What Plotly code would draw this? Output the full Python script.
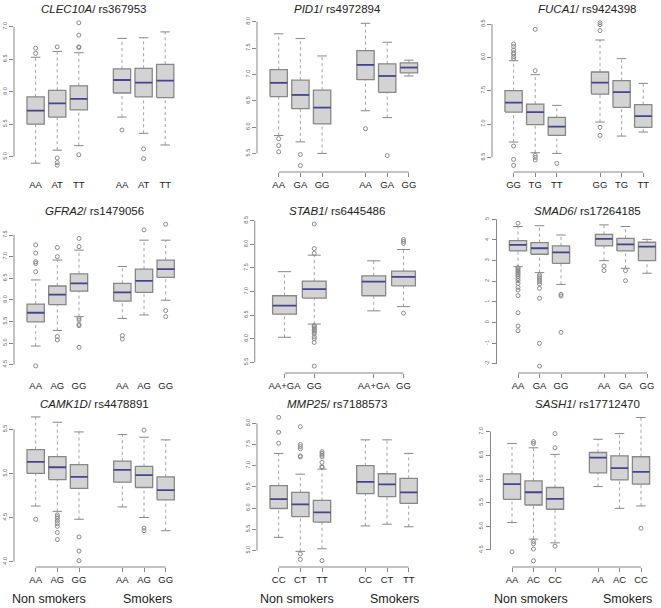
import plotly.graph_objects as go

# ---------------- data ----------------
POS6 = [1, 2, 3, 5, 6, 7]
POS4 = [1, 2, 4, 5]

CLEC10A_labels = ["AA", "AT", "TT", "AA", "AT", "TT"]
CLEC10A_lo = [4.90, 5.10, 5.17, 5.61, 5.36, 5.18]
CLEC10A_q1 = [5.50, 5.61, 5.72, 5.98, 5.92, 5.91]
CLEC10A_med = [5.71, 5.82, 5.89, 6.18, 6.14, 6.17]
CLEC10A_q3 = [5.92, 6.02, 6.09, 6.35, 6.36, 6.42]
CLEC10A_hi = [6.53, 6.62, 6.60, 6.82, 6.83, 6.92]
CLEC10A_out = [[6.67, 6.59], [6.69, 4.98, 4.91, 4.87], [7.06, 6.87, 6.69, 6.68, 5.03],
               [5.41], [5.12, 4.97], []]

PID1_labels = ["AA", "GA", "GG", "AA", "GA", "GG"]
PID1_lo = [5.84, 5.72, 5.50, 6.31, 6.18, 6.97]
PID1_q1 = [6.58, 6.35, 6.06, 6.90, 6.66, 7.03]
PID1_med = [6.84, 6.61, 6.37, 7.18, 6.97, 7.13]
PID1_q3 = [7.09, 6.89, 6.70, 7.45, 7.20, 7.22]
PID1_hi = [7.77, 7.68, 7.35, 7.97, 7.61, 7.27]
PID1_out = [[5.78, 5.65, 5.53], [5.48, 5.27], [], [5.97], [5.46], []]

FUCA1_labels = ["GG", "TG", "TT", "GG", "TG", "TT"]
FUCA1_lo = [6.73, 6.57, 6.56, 7.03, 6.82, 6.88]
FUCA1_q1 = [7.18, 6.99, 6.83, 7.45, 7.25, 6.95]
FUCA1_med = [7.32, 7.18, 6.96, 7.62, 7.48, 7.12]
FUCA1_q3 = [7.50, 7.30, 7.10, 7.78, 7.65, 7.29]
FUCA1_hi = [7.95, 7.74, 7.28, 8.26, 7.98, 7.61]
FUCA1_out = [[8.20, 8.16, 8.11, 8.07, 8.05, 8.01, 7.98, 6.67, 6.47, 6.38],
             [8.42, 7.80, 6.53, 6.50, 6.46], [6.41],
             [8.52, 8.49, 8.40, 6.95, 6.83], [], []]

GFRA2_labels = ["AA", "AG", "GG", "AA", "AG", "GG"]
GFRA2_lo = [4.93, 5.29, 5.61, 5.57, 5.65, 5.99]
GFRA2_q1 = [5.49, 5.89, 6.20, 5.97, 6.17, 6.52]
GFRA2_med = [5.70, 6.12, 6.38, 6.17, 6.44, 6.71]
GFRA2_q3 = [5.90, 6.32, 6.60, 6.38, 6.71, 6.92]
GFRA2_hi = [6.46, 6.92, 7.15, 6.77, 7.38, 7.38]
GFRA2_out = [[7.27, 7.08, 6.88, 6.84, 6.65, 4.47], [7.21, 7.00, 5.15, 5.07],
             [7.42, 7.23, 5.57, 5.53, 5.43, 5.40, 4.90], [5.17, 5.09], [7.62],
             [7.75, 5.75, 5.61]]

STAB1_labels = ["AA+GA", "GG", "AA+GA", "GG"]
STAB1_lo = [6.03, 6.31, 6.59, 6.68]
STAB1_q1 = [6.52, 6.86, 6.91, 7.12]
STAB1_med = [6.70, 7.05, 7.21, 7.31]
STAB1_q3 = [6.91, 7.22, 7.33, 7.43]
STAB1_hi = [7.42, 7.77, 7.65, 7.89]
STAB1_out = [[], [8.43, 7.91, 7.81, 6.28, 6.26, 6.23, 6.20, 6.17, 6.14, 6.11, 6.04, 6.00, 5.92, 5.42],
             [], [8.10, 8.06, 8.02, 6.54]]

SMAD6_labels = ["AA", "GA", "GG", "AA", "GA", "GG"]
SMAD6_lo = [2.71, 2.42, 1.85, 3.00, 2.63, 2.39]
SMAD6_q1 = [3.47, 3.31, 2.87, 3.71, 3.47, 3.00]
SMAD6_med = [3.76, 3.60, 3.40, 4.05, 3.79, 3.68]
SMAD6_q3 = [3.97, 3.87, 3.71, 4.27, 4.08, 3.89]
SMAD6_hi = [4.65, 4.69, 4.24, 4.73, 4.65, 4.03]
SMAD6_out = [[4.81, 2.66, 2.60, 2.52, 2.45, 2.39, 2.31, 2.23, 2.13, 2.03, 1.90, 1.71, 1.58, 1.31,
              0.48, -0.16, -0.39],
             [2.31, 2.23, 2.15, 2.06, 1.98, 1.87, 1.66, 1.18, -1.00, -2.10],
             [1.37, 1.29, -0.47], [2.74, 2.52], [2.52, 2.03], []]

CAMK1D_labels = ["AA", "AG", "GG", "AA", "AG", "GG"]
CAMK1D_lo = [4.63, 4.57, 4.48, 4.62, 4.50, 4.35]
CAMK1D_q1 = [5.00, 4.93, 4.83, 4.90, 4.84, 4.70]
CAMK1D_med = [5.13, 5.07, 4.96, 5.04, 4.98, 4.81]
CAMK1D_q3 = [5.27, 5.19, 5.10, 5.14, 5.08, 4.96]
CAMK1D_hi = [5.64, 5.58, 5.47, 5.44, 5.41, 5.38]
CAMK1D_out = [[4.48], [4.53, 4.51, 4.49, 4.46, 4.43, 4.40, 4.33, 4.25], [4.28, 4.12, 4.01],
              [], [5.49, 4.38, 4.35], []]

MMP25_labels = ["CC", "CT", "TT", "CC", "CT", "TT"]
MMP25_lo = [5.31, 4.98, 5.04, 5.58, 5.62, 5.56]
MMP25_q1 = [5.99, 5.80, 5.67, 6.34, 6.27, 6.11]
MMP25_med = [6.21, 6.09, 5.90, 6.62, 6.56, 6.37]
MMP25_q3 = [6.53, 6.37, 6.18, 7.00, 6.81, 6.70]
MMP25_hi = [7.29, 6.80, 6.92, 7.61, 7.61, 7.29]
MMP25_out = [[8.14, 7.79, 7.53], [7.92, 7.50, 7.45, 7.40, 7.23, 7.21, 4.92, 4.79],
             [7.33, 7.29, 7.25, 7.21, 7.08, 6.98, 6.96, 4.76], [], [], []]

SASH1_labels = ["AA", "AC", "CC", "AA", "AC", "CC"]
SASH1_lo = [5.08, 4.73, 4.65, 5.84, 5.38, 5.43]
SASH1_q1 = [5.57, 5.45, 5.36, 6.13, 5.98, 5.89]
SASH1_med = [5.89, 5.72, 5.58, 6.45, 6.23, 6.15]
SASH1_q3 = [6.11, 5.96, 5.82, 6.56, 6.49, 6.47]
SASH1_hi = [6.75, 6.66, 6.52, 6.84, 6.96, 7.30]
SASH1_out = [[4.46], [6.79, 6.75, 4.68, 4.63, 4.52, 4.27], [6.96, 6.66, 4.58], [], [], [4.96]]

GROUP_LABELS = ["Non smokers", "Smokers"]

# ---------------- layout of the panels (pixels) ----------------
W, H = 661, 608
panels = [
    ("CLEC10A", "rs367953", CLEC10A_labels, POS6, CLEC10A_lo, CLEC10A_q1, CLEC10A_med, CLEC10A_q3, CLEC10A_hi, CLEC10A_out,
     [5.0, 5.5, 6.0, 6.5, 7.0], 14, 21.6, 7.0, 26.7, 65.0, 15, 172, False, (94, 9)),
    ("PID1", "rs4972894", PID1_labels, POS6, PID1_lo, PID1_q1, PID1_med, PID1_q3, PID1_hi, PID1_out,
     [5.5, 6.0, 6.5, 7.0, 7.5, 8.0], 257, 21.7, 8.0, 21.7, 52.7, 15, 172, True, (337, 9)),
    ("FUCA1", "rs9424398", FUCA1_labels, POS6, FUCA1_lo, FUCA1_q1, FUCA1_med, FUCA1_q3, FUCA1_hi, FUCA1_out,
     [6.5, 7.0, 7.5, 8.0, 8.5], 492, 21.6, 8.5, 24.0, 66.7, 15, 172, True, (587, 9)),
    ("GFRA2", "rs1479056", GFRA2_labels, POS6, GFRA2_lo, GFRA2_q1, GFRA2_med, GFRA2_q3, GFRA2_hi, GFRA2_out,
     [4.5, 5.0, 5.5, 6.0, 6.5, 7.0, 7.5], 14, 21.67, 7.5, 235.0, 43.2, 213, 373, False, (94, 211)),
    ("STAB1", "rs6445486", STAB1_labels, POS4, STAB1_lo, STAB1_q1, STAB1_med, STAB1_q3, STAB1_hi, STAB1_out,
     [5.5, 6.0, 6.5, 7.0, 7.5, 8.0, 8.5], 254.75, 29.75, 8.5, 220.7, 47.2, 213, 373, True, (337, 211)),
    ("SMAD6", "rs17264185", SMAD6_labels, POS6, SMAD6_lo, SMAD6_q1, SMAD6_med, SMAD6_q3, SMAD6_hi, SMAD6_out,
     [-2, -1, 0, 1, 2, 3, 4, 5], 496.5, 21.5, 5.0, 219.3, 20.67, 213, 373, True, (587, 211)),
    ("CAMK1D", "rs4478891", CAMK1D_labels, POS6, CAMK1D_lo, CAMK1D_q1, CAMK1D_med, CAMK1D_q3, CAMK1D_hi, CAMK1D_out,
     [4.0, 4.5, 5.0, 5.5], 14, 21.67, 5.5, 429.3, 88.2, 413, 567, True, (94, 404)),
    ("MMP25", "rs7188573", MMP25_labels, POS6, MMP25_lo, MMP25_q1, MMP25_med, MMP25_q3, MMP25_hi, MMP25_out,
     [5.0, 5.5, 6.0, 6.5, 7.0, 7.5, 8.0], 257, 21.67, 8.0, 423.3, 42.4, 413, 567, True, (337, 404)),
    ("SASH1", "rs17712470", SASH1_labels, POS6, SASH1_lo, SASH1_q1, SASH1_med, SASH1_q3, SASH1_hi, SASH1_out,
     [4.5, 5.0, 5.5, 6.0, 6.5, 7.0], 490.5, 21.5, 7.0, 431.7, 47.3, 413, 567, True, (587, 404)),
]
group_label_pos = [((49, 599), (147, 599)), ((297, 599), (394, 599)), ((531, 599), (627, 599))]

BOX_FILL = "#d3d3d3"
BOX_LINE = "#878787"
WHISK = "#a3a3a3"
MED = "#45458f"
OUT = "#8a8a8a"
HW = 0.4     # box half width
CW = 0.22    # cap half width

fig = go.Figure()
layout = dict(width=W, height=H, margin=dict(l=0, r=0, t=0, b=0),
              paper_bgcolor="white", plot_bgcolor="white", showlegend=False)
shapes, annotations = [], []

for i, p in enumerate(panels):
    (gene, rs, labels, pos, lo, q1, med, q3, hi, outs, yt, ax_px, unit,
     refv, refpx, ppu, top, bot, showx, tpos) = p
    n = "" if i == 0 else str(i + 1)
    xa, ya = "x" + n, "y" + n
    xmax = pos[-1] + 0.6

    wx, wy = [], []
    for k, x in enumerate(pos):
        wx += [x, x, None, x, x, None]
        wy += [q3[k], hi[k], None, lo[k], q1[k], None]
    fig.add_trace(go.Scatter(x=wx, y=wy, mode="lines", xaxis=xa, yaxis=ya,
                             line=dict(color=WHISK, width=1, dash="dot"), hoverinfo="skip"))
    cx, cy = [], []
    for k, x in enumerate(pos):
        cx += [x - CW, x + CW, None, x - CW, x + CW, None]
        cy += [hi[k], hi[k], None, lo[k], lo[k], None]
    fig.add_trace(go.Scatter(x=cx, y=cy, mode="lines", xaxis=xa, yaxis=ya,
                             line=dict(color=BOX_LINE, width=1), hoverinfo="skip"))
    bx, by = [], []
    for k, x in enumerate(pos):
        bx += [x - HW, x + HW, x + HW, x - HW, x - HW, None]
        by += [q1[k], q1[k], q3[k], q3[k], q1[k], None]
    fig.add_trace(go.Scatter(x=bx, y=by, mode="lines", fill="toself", fillcolor=BOX_FILL,
                             xaxis=xa, yaxis=ya, line=dict(color=BOX_LINE, width=1.3),
                             hoverinfo="skip"))
    mx, my = [], []
    for k, x in enumerate(pos):
        mx += [x - HW, x + HW, None]
        my += [med[k], med[k], None]
    fig.add_trace(go.Scatter(x=mx, y=my, mode="lines", xaxis=xa, yaxis=ya,
                             line=dict(color=MED, width=1.8), hoverinfo="skip"))
    ox, oy = [], []
    for k, x in enumerate(pos):
        for v in outs[k]:
            ox.append(x)
            oy.append(v)
    fig.add_trace(go.Scatter(x=ox, y=oy, mode="markers", xaxis=xa, yaxis=ya, cliponaxis=False,
                             marker=dict(symbol="circle-open", size=4, color=OUT, line=dict(width=1)),
                             hoverinfo="skip"))

    ymin = refv - (bot - refpx) / ppu
    ymax = refv + (refpx - top) / ppu
    xr_px = ax_px + xmax * unit
    layout["xaxis" + n] = dict(
        domain=[ax_px / W, min(xr_px / W, 1.0)], range=[0, xmax], anchor=ya,
        tickmode="array", tickvals=pos, ticktext=labels, ticks="outside", ticklen=4,
        tickcolor=BOX_LINE if showx else "rgba(0,0,0,0)", showline=False, showgrid=False,
        zeroline=False, tickfont=dict(family="Liberation Sans, Arial", size=9.5, color="#222"),
        fixedrange=True)
    layout["yaxis" + n] = dict(
        domain=[(H - bot) / H, (H - top) / H], range=[ymin, ymax], anchor=xa,
        tickmode="array", tickvals=yt,
        ticktext=[("%d" % v) if gene == "SMAD6" else ("%.1f" % v) for v in yt],
        ticks="outside", ticklen=4, tickcolor=BOX_LINE, tickangle=-90,
        showline=False, showgrid=False, zeroline=False,
        tickfont=dict(family="Liberation Sans, Arial", size=5.5, color="#666"), fixedrange=True)
    shapes.append(dict(type="line", xref=xa + " domain", yref=ya, x0=0, x1=0, y0=yt[0], y1=yt[-1],
                       line=dict(color=BOX_LINE, width=1)))
    if showx:
        shapes.append(dict(type="line", xref=xa, yref=ya + " domain", x0=pos[0], x1=pos[-1], y0=0, y1=0,
                           line=dict(color=BOX_LINE, width=1)))
    annotations.append(dict(text="<i>%s</i>/ %s" % (gene, rs), xref="paper", yref="paper",
                            x=tpos[0] / W, y=1 - tpos[1] / H, xanchor="center", yanchor="middle",
                            showarrow=False, font=dict(family="Liberation Sans, Arial", size=11.5, color="#222")))

for (a, b) in group_label_pos:
    for (px, py), txt in zip((a, b), GROUP_LABELS):
        annotations.append(dict(text=txt, xref="paper", yref="paper", x=px / W, y=1 - py / H,
                                xanchor="center", yanchor="middle", showarrow=False,
                                font=dict(family="Liberation Sans, Arial", size=12.5, color="#222")))

layout["shapes"] = shapes
layout["annotations"] = annotations
fig.update_layout(**layout)
fig.write_html("out.html", config={"displayModeBar": False, "staticPlot": True},
               post_script="document.body.style.margin='0';document.body.style.padding='0';"
                           "document.body.style.overflow='hidden';")
